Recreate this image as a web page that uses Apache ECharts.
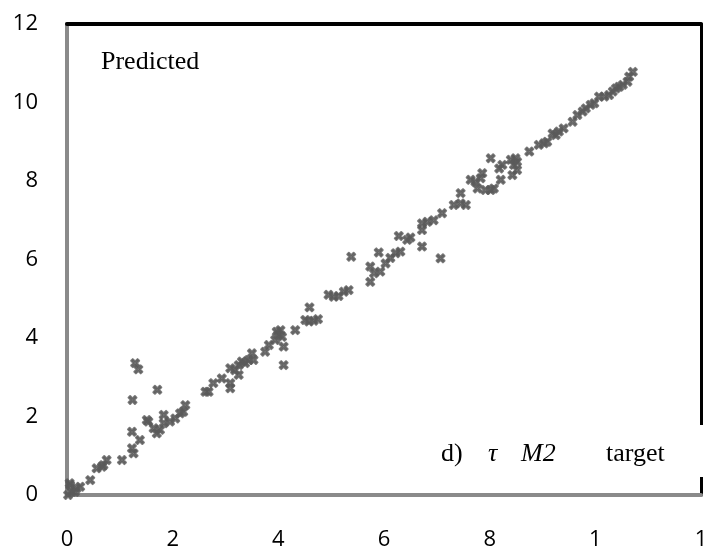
<!DOCTYPE html>
<html>
<head>
<meta charset="utf-8">
<script src="https://cdn.jsdelivr.net/npm/echarts@6/dist/echarts.min.js"></script>
<style>
  html, body { margin: 0; padding: 0; background: #fff; }
  #chart { width: 705px; height: 557px; }
</style>
</head>
<body>
<div id="chart"></div>
<script>
// target (x) and predicted (y) values
const target = [
    0.02, 0.06, 0.09, 0.15, 0.18, 0.25, 0.05,
    0.44, 0.56, 0.66, 0.69, 0.75,
    1.04, 1.23, 1.26, 1.23, 1.38, 1.24, 1.29, 1.35, 1.71,
    1.51, 1.54, 1.64, 1.70, 1.76, 1.83, 1.83, 1.95, 2.05, 2.14, 2.20, 2.24,
    2.62, 2.68, 2.77, 2.93, 3.09, 3.09, 3.09, 3.18, 3.25, 3.31, 3.37, 3.25, 3.44, 3.50, 3.53, 3.75, 3.82,
    3.94, 3.97, 4.04, 4.07, 4.10, 4.00, 4.10, 4.32, 4.51, 4.58, 4.67, 4.75, 4.59,
    4.95, 5.05, 5.14, 5.24, 5.33, 5.38,
    5.74, 5.74, 5.81, 5.93, 5.90, 6.03, 6.12, 6.22, 6.31, 6.28, 6.44, 6.50, 6.72, 6.72, 6.72, 6.82, 7.07,
    6.94, 7.10, 7.32, 7.45, 7.55, 7.45, 7.64, 7.73, 7.83, 7.86, 7.77, 7.92, 8.02, 8.08, 8.02, 8.21, 8.18, 8.24,
    8.40, 8.49, 8.52, 8.46, 8.52, 8.43, 8.75, 8.93, 9.03, 9.09,
    9.19, 9.25, 9.31, 9.40, 9.57, 9.66, 9.76, 9.82, 9.91, 9.98,
    10.07, 10.17, 10.26, 10.33, 10.39, 10.45, 10.52, 10.61, 10.64, 10.71
];
const predicted = [
    0.00, 0.25, 0.08, 0.08, 0.17, 0.21, 0.30,
    0.38, 0.68, 0.72, 0.76, 0.89,
    0.89, 1.19, 1.06, 1.61, 1.40, 2.42, 3.36, 3.20, 2.68,
    1.91, 1.87, 1.70, 1.57, 1.66, 2.04, 1.83, 1.87, 1.95, 2.08, 2.12, 2.29,
    2.63, 2.63, 2.85, 2.97, 3.23, 2.85, 2.72, 3.18, 3.31, 3.40, 3.36, 3.06, 3.44, 3.61, 3.44, 3.65, 3.82,
    3.95, 4.16, 4.20, 4.03, 3.78, 4.08, 3.31, 4.20, 4.46, 4.42, 4.44, 4.48, 4.78,
    5.10, 5.05, 5.07, 5.18, 5.22, 6.07,
    5.43, 5.82, 5.65, 5.69, 6.18, 5.90, 6.04, 6.16, 6.20, 6.60, 6.50, 6.56, 6.33, 6.75, 6.92, 6.96, 6.03,
    7.00, 7.18, 7.39, 7.43, 7.39, 7.69, 8.03, 7.98, 8.07, 8.20, 7.81, 7.77, 7.77, 7.81, 8.58, 8.03, 8.32, 8.41,
    8.54, 8.58, 8.49, 8.41, 8.28, 8.15, 8.75, 8.92, 8.96, 9.00,
    9.21, 9.17, 9.26, 9.34, 9.51, 9.68, 9.77, 9.85, 9.94, 9.98,
    10.15, 10.15, 10.19, 10.28, 10.36, 10.40, 10.45, 10.53, 10.66, 10.78
];
// tick labels as printed (10 and 12 are cut to "1" in the original)
const xTickLabels = ['0', '2', '4', '6', '8', '1', '1'];
const yTickLabels = ['0', '2', '4', '6', '8', '10', '12'];

const points = target.map((t, i) => [t, predicted[i]]);

// chunky Excel-like "x" marker
const xMarker = 'path://M0,2 L2,0 L5,3 L8,0 L10,2 L7,5 L10,8 L8,10 L5,7 L2,10 L0,8 L3,5 Z';

const chart = echarts.init(document.getElementById('chart'));

const labelFont = {
    fontFamily: 'Open Sans',
    fontSize: 22,
    color: '#000'
};

chart.setOption({
    animation: false,
    backgroundColor: '#fff',
    grid: {
        left: 67,
        right: 4,
        top: 24,
        bottom: 62,
        outerBoundsMode: 'none'
    },
    xAxis: [
        {
            type: 'value',
            min: 0,
            max: 12,
            interval: 2,
            axisLine: { show: true, onZero: false, lineStyle: { color: '#8a8a8a', width: 4 } },
            axisTick: { show: false },
            splitLine: { show: false },
            axisLabel: Object.assign({
                margin: 34,
                formatter: function (v) { return xTickLabels[Math.round(v / 2)]; }
            }, labelFont)
        },
        {
            type: 'value',
            position: 'top',
            min: 0,
            max: 12,
            axisLine: { show: true, onZero: false, lineStyle: { color: '#000', width: 4 } },
            axisTick: { show: false },
            splitLine: { show: false },
            axisLabel: { show: false }
        }
    ],
    yAxis: [
        {
            type: 'value',
            min: 0,
            max: 12,
            interval: 2,
            axisLine: { show: true, onZero: false, lineStyle: { color: '#8a8a8a', width: 4 } },
            axisTick: { show: false },
            splitLine: { show: false },
            axisLabel: Object.assign({
                margin: 29,
                formatter: function (v) { return yTickLabels[Math.round(v / 2)]; }
            }, labelFont)
        },
        {
            type: 'value',
            position: 'right',
            min: 0,
            max: 12,
            axisLine: { show: true, onZero: false, lineStyle: { color: '#000', width: 3 } },
            axisTick: { show: false },
            splitLine: { show: false },
            axisLabel: { show: false }
        }
    ],
    graphic: [
        {
            type: 'rect',
            right: 0,
            top: 425,
            shape: { width: 8, height: 52 },
            style: { fill: '#fff' },
            z: 100
        },
        {
            type: 'text',
            left: 101,
            top: 49,
            style: { text: 'Predicted', font: '26px "Liberation Serif"', fill: '#000' }
        },
        {
            type: 'text',
            left: 441,
            top: 441,
            style: { text: 'd)', font: '26px "Liberation Serif"', fill: '#000' }
        },
        {
            type: 'text',
            left: 488,
            top: 441,
            style: { text: 'τ', font: 'italic 26px "Liberation Serif"', fill: '#000' }
        },
        {
            type: 'text',
            left: 521,
            top: 441,
            style: { text: 'M2', font: 'italic 26px "Liberation Serif"', fill: '#000' }
        },
        {
            type: 'text',
            left: 606,
            top: 441,
            style: { text: 'target', font: '26px "Liberation Serif"', fill: '#000' }
        }
    ],
    series: [
        {
            type: 'scatter',
            name: 'Predicted',
            data: points,
            symbol: xMarker,
            symbolSize: 8,
            itemStyle: { color: '#5a5a5a', borderColor: '#5a5a5a', borderWidth: 2, borderJoin: 'round' }
        }
    ]
});
</script>
</body>
</html>
